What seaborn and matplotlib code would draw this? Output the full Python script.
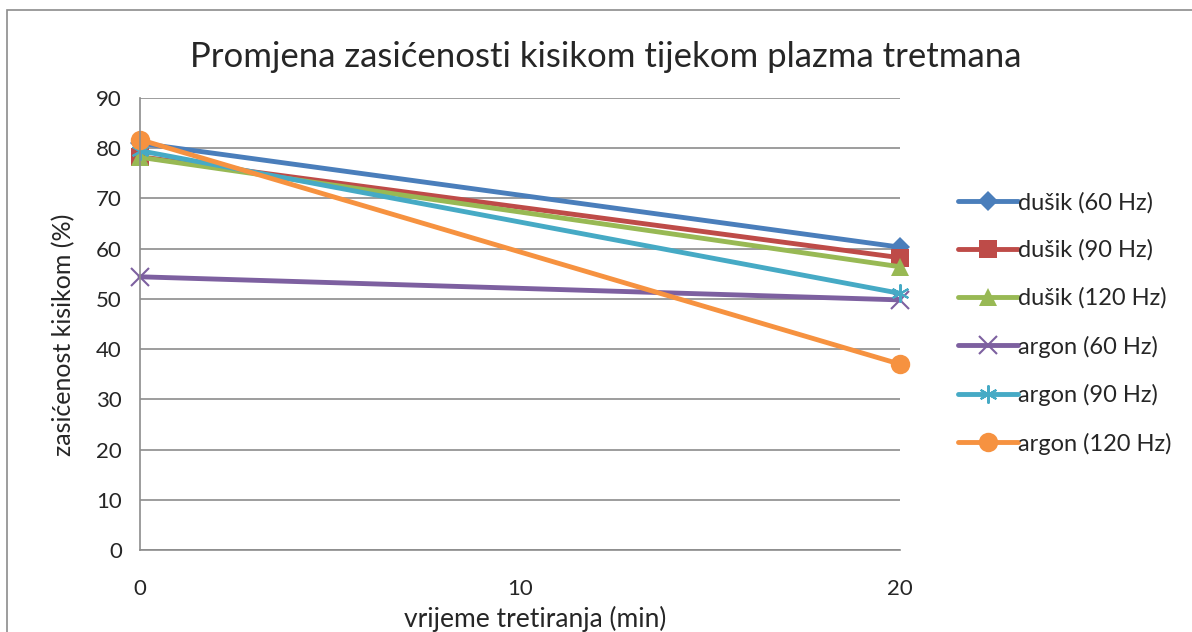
import matplotlib
matplotlib.use("Agg")
import matplotlib.pyplot as plt
import seaborn as sns
from matplotlib.patches import Rectangle

# data
vrijeme = [0, 20]
serije = ['dušik (60 Hz)', 'dušik (90 Hz)', 'dušik (120 Hz)',
          'argon (60 Hz)', 'argon (90 Hz)', 'argon (120 Hz)']
dusik_60 = [81.0, 60.3]
dusik_90 = [78.3, 58.2]
dusik_120 = [78.2, 56.4]
argon_60 = [54.4, 49.8]
argon_90 = [79.5, 51.1]
argon_120 = [81.7, 37.0]
vrijednosti = [dusik_60, dusik_90, dusik_120, argon_60, argon_90, argon_120]

boje = ['#4A7EBB', '#BE4B48', '#98B954', '#7D60A0', '#46AAC5', '#F69240']
markeri = ['D', 's', '^', 'x', '*', 'o']
velicine = [10, 13, 13, 13, 13, 14]

sns.set_style('white')
plt.rcParams['font.family'] = ['Lato', 'DejaVu Sans']

fig = plt.figure(figsize=(11.92, 6.32), dpi=100)
ax = fig.add_axes([140/1192, 82/632, 760/1192, 452/632])

for naziv, y, c, m, s in zip(serije, vrijednosti, boje, markeri, velicine):
    if m in ('x', '*'):
        sns.lineplot(x=vrijeme, y=y, ax=ax, color=c, lw=3.5, label=naziv,
                     marker='x' if m == 'x' else (6, 2, 0), markersize=s,
                     markeredgewidth=1.5, markeredgecolor=c, clip_on=False)
    else:
        sns.lineplot(x=vrijeme, y=y, ax=ax, color=c, lw=3.5, label=naziv,
                     marker=m, markersize=s, markeredgewidth=0, clip_on=False)

ax.set_xlim(0, 20)
ax.set_ylim(0, 90)
ax.set_xticks([0, 10, 20])
ax.set_yticks(range(0, 91, 10))
ax.yaxis.grid(True, color='#8C8C8C', lw=1.2)
ax.xaxis.grid(False)
ax.set_axisbelow(True)
for s in ['top', 'right']:
    ax.spines[s].set_visible(False)
for s in ['left', 'bottom']:
    ax.spines[s].set_color('#8C8C8C')
    ax.spines[s].set_linewidth(1.2)
ax.tick_params(axis='both', direction='out', length=7, width=1.2, color='#8C8C8C',
               labelsize=16, pad=6)
ax.tick_params(axis='x', pad=14)
ax.set_xlabel('vrijeme tretiranja (min)', fontsize=19, labelpad=6)
ax.xaxis.set_label_coords(535/1192, 0, transform=fig.transFigure)
ax.xaxis.label.set_verticalalignment('center')
ax.xaxis.label.set_y((632-619)/632)
ax.set_ylabel('zasićenost kisikom (%)', fontsize=18)
ax.yaxis.set_label_coords(64/1192, (632-335)/632, transform=fig.transFigure)
ax.yaxis.label.set_verticalalignment('center')

fig.text(606/1192, (632-67)/632, 'Promjena zasićenosti kisikom tijekom plazma tretmana',
         fontsize=25, ha='center', va='baseline')

leg = ax.legend(loc='center left', bbox_to_anchor=(1.049, 0.502), frameon=False,
                fontsize=17, handlelength=2.5, handletextpad=0.0, labelspacing=1.12)

fig.add_artist(Rectangle((7/1192, -0.1), 1.2, 1.1 - 10/632, transform=fig.transFigure,
                         fill=False, edgecolor='#8C8C8C', lw=1.2))

fig.savefig('out.png', dpi=100)
